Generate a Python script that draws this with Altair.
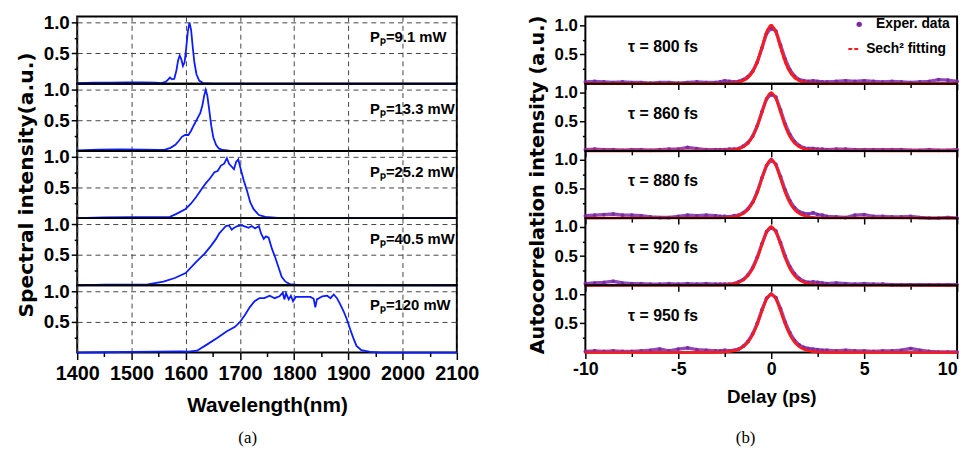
import altair as alt
import pandas as pd

# ---------------- data: panel (a) spectra ----------------
power_labels = ["Pₚ=9.1 mW", "Pₚ=13.3 mW", "Pₚ=25.2 mW", "Pₚ=40.5 mW", "Pₚ=120 mW"]
label_wl = [1940, 1940, 1940, 1940, 1940]
label_lev = [0.76, 0.68, 0.76, 0.76, 0.78]

wl_1 = [1400, 1430, 1460, 1490, 1520, 1545, 1555, 1563, 1568, 1571, 1575, 1579, 1583, 1586, 1589, 1592,
        1595, 1598, 1601, 1604, 1607, 1610, 1613, 1616, 1620, 1625, 1632, 1650, 1800, 2100]
int_1 = [0.01, 0.015, 0.015, 0.02, 0.02, 0.015, 0.01, 0.03, 0.07, 0.10, 0.07, 0.08, 0.22, 0.38, 0.46, 0.40,
         0.29, 0.35, 0.58, 0.85, 1.0, 0.88, 0.60, 0.35, 0.15, 0.05, 0.01, 0.0, 0.0, 0.0]

wl_2 = [1400, 1440, 1480, 1520, 1550, 1562, 1572, 1581, 1588, 1593, 1599, 1605, 1610, 1615, 1621, 1627,
        1631, 1634, 1637, 1640, 1643, 1647, 1651, 1656, 1661, 1668, 1680, 1700, 2100]
int_2 = [0.01, 0.02, 0.025, 0.02, 0.015, 0.02, 0.05, 0.10, 0.17, 0.23, 0.26, 0.26, 0.33, 0.42, 0.52, 0.62,
         0.75, 0.90, 1.0, 0.90, 0.70, 0.42, 0.22, 0.10, 0.04, 0.015, 0.005, 0.0, 0.0]

wl_3 = [1400, 1450, 1500, 1530, 1555, 1571, 1583, 1600, 1610, 1619, 1626, 1632, 1638, 1644, 1649, 1653,
        1659, 1665, 1671, 1676, 1680, 1685, 1689, 1693, 1697, 1701, 1707, 1713, 1719, 1725, 1735, 1747,
        1770, 2100]
int_3 = [0.0, 0.01, 0.015, 0.015, 0.015, 0.02, 0.07, 0.15, 0.24, 0.34, 0.43, 0.51, 0.58, 0.64, 0.70, 0.75,
         0.77, 0.86, 0.89, 0.98, 0.89, 0.84, 0.80, 0.92, 0.96, 0.82, 0.62, 0.45, 0.26, 0.15, 0.05, 0.02,
         0.005, 0.0]

wl_4 = [1400, 1450, 1500, 1530, 1559, 1580, 1600, 1619, 1635, 1647, 1656, 1662, 1668, 1674, 1680, 1685,
        1689, 1695, 1704, 1710, 1716, 1722, 1728, 1735, 1739, 1744, 1748, 1753, 1759, 1765, 1771, 1777,
        1784, 1792, 1810, 2100]
int_4 = [0.0, 0.01, 0.01, 0.015, 0.06, 0.12, 0.20, 0.38, 0.52, 0.65, 0.76, 0.85, 0.91, 0.97, 0.98, 0.91,
         0.94, 0.97, 0.98, 0.96, 0.94, 0.97, 0.93, 0.97, 0.85, 0.76, 0.80, 0.78, 0.60, 0.46, 0.30, 0.14,
         0.06, 0.02, 0.005, 0.0]

wl_5 = [1400, 1450, 1500, 1550, 1590, 1605, 1621, 1639, 1658, 1676, 1691, 1700, 1709, 1718, 1727, 1736,
        1745, 1755, 1764, 1773, 1779, 1782, 1785, 1790, 1794, 1798, 1803, 1812, 1821, 1830, 1836, 1839,
        1842, 1852, 1861, 1867, 1873, 1879, 1885, 1891, 1897, 1903, 1909, 1915, 1924, 1940, 1960, 2100]
int_5 = [0.0, 0.005, 0.01, 0.015, 0.02, 0.015, 0.03, 0.13, 0.24, 0.35, 0.42, 0.50, 0.61, 0.74, 0.84, 0.89,
         0.89, 0.93, 0.89, 0.92, 0.98, 0.87, 0.97, 0.87, 0.93, 0.84, 0.91, 0.91, 0.91, 0.91, 0.88, 0.74,
         0.87, 0.92, 0.93, 0.89, 0.95, 0.89, 0.79, 0.68, 0.55, 0.39, 0.24, 0.11, 0.04, 0.01, 0.0, 0.0]

spec_wl = [wl_1, wl_2, wl_3, wl_4, wl_5]
spec_int = [int_1, int_2, int_3, int_4, int_5]

# ---------------- data: panel (b) autocorrelation ----------------
tau_labels = ["τ = 800 fs", "τ = 860 fs", "τ = 880 fs", "τ = 920 fs", "τ = 950 fs"]
tau_x = [-7.7, -7.7, -7.7, -7.7, -7.7]
tau_lev = [0.63, 0.63, 0.63, 0.63, 0.63]

ac_delay = [-10, -9.5, -9, -8.5, -8, -7.5, -7, -6.5, -6, -5.5, -5, -4.5, -4, -3.5, -3,
            -2.75, -2.5, -2.25, -2, -1.75, -1.5, -1.25, -1, -0.75, -0.5, -0.25, 0, 0.25, 0.5, 0.75,
            1, 1.25, 1.5, 1.75, 2, 2.25, 2.5, 2.75,
            3, 3.5, 4, 4.5, 5, 5.5, 6, 6.5, 7, 7.5, 8, 8.5, 9, 9.5, 10]
ac_800 = [0.03, 0.04, 0.03, 0.02, 0.03, 0.02, 0.02, 0.01, 0.02, 0.02, 0.01, 0.02, 0.03, 0.02, 0.02,
          0.03, 0.05, 0.04, 0.03, 0.04, 0.07, 0.12, 0.21, 0.37, 0.61, 0.86, 0.95, 0.90, 0.66, 0.42,
          0.24, 0.13, 0.07, 0.05, 0.04, 0.05, 0.04, 0.03,
          0.03, 0.04, 0.05, 0.04, 0.05, 0.04, 0.03, 0.04, 0.03, 0.02, 0.03, 0.04, 0.07, 0.06, 0.04]
ac_860 = [0.02, 0.03, 0.02, 0.02, 0.01, 0.02, 0.02, 0.01, 0.02, 0.03, 0.03, 0.06, 0.04, 0.02, 0.02,
          0.02, 0.02, 0.03, 0.03, 0.04, 0.08, 0.14, 0.25, 0.43, 0.67, 0.89, 0.97, 0.92, 0.70, 0.46,
          0.28, 0.16, 0.09, 0.05, 0.04, 0.04, 0.03, 0.03,
          0.02, 0.03, 0.03, 0.02, 0.02, 0.02, 0.02, 0.02, 0.02, 0.01, 0.01, 0.02, 0.01, 0.01, 0.02]
ac_880 = [0.04, 0.05, 0.06, 0.07, 0.05, 0.05, 0.04, 0.02, 0.01, 0.01, 0.03, 0.05, 0.04, 0.05, 0.04,
          0.03, 0.03, 0.02, 0.04, 0.05, 0.09, 0.16, 0.27, 0.45, 0.69, 0.90, 1.0, 0.92, 0.71, 0.48,
          0.30, 0.18, 0.11, 0.08, 0.07, 0.09, 0.06, 0.05,
          0.03, 0.02, 0.01, 0.05, 0.06, 0.03, 0.03, 0.02, 0.02, 0.03, 0.01, 0.0, 0.0, 0.01, 0.0]
ac_920 = [0.03, 0.04, 0.05, 0.07, 0.04, 0.03, 0.03, 0.02, 0.02, 0.03, 0.02, 0.03, 0.02, 0.03, 0.02,
          0.02, 0.02, 0.02, 0.03, 0.06, 0.10, 0.18, 0.30, 0.48, 0.71, 0.92, 0.99, 0.93, 0.73, 0.50,
          0.32, 0.20, 0.12, 0.07, 0.05, 0.06, 0.05, 0.04,
          0.03, 0.04, 0.03, 0.02, 0.03, 0.02, 0.02, 0.01, 0.01, 0.01, 0.01, 0.01, 0.01, 0.01, 0.01]
ac_950 = [0.02, 0.03, 0.02, 0.03, 0.02, 0.02, 0.03, 0.04, 0.06, 0.03, 0.06, 0.08, 0.05, 0.04, 0.03,
          0.03, 0.04, 0.03, 0.04, 0.06, 0.11, 0.19, 0.32, 0.50, 0.73, 0.93, 1.0, 0.94, 0.75, 0.52,
          0.34, 0.21, 0.13, 0.09, 0.07, 0.06, 0.05, 0.04,
          0.04, 0.03, 0.04, 0.03, 0.03, 0.02, 0.03, 0.03, 0.04, 0.07, 0.04, 0.02, 0.01, 0.01, 0.01]
ac_data = [ac_800, ac_860, ac_880, ac_920, ac_950]

fit_delay = [-10, -3, -2.5, -2, -1.75, -1.5, -1.25, -1, -0.75, -0.5, -0.25, 0,
             0.25, 0.5, 0.75, 1, 1.25, 1.5, 1.75, 2, 2.5, 3, 10]
fit_800 = [0, 0.001, 0.003, 0.013, 0.026, 0.053, 0.105, 0.204, 0.374, 0.621, 0.882, 1.0,
           0.882, 0.621, 0.374, 0.204, 0.105, 0.053, 0.026, 0.013, 0.003, 0.001, 0]
fit_860 = [0, 0.001, 0.005, 0.019, 0.037, 0.070, 0.132, 0.242, 0.419, 0.660, 0.896, 1.0,
           0.896, 0.660, 0.419, 0.242, 0.132, 0.070, 0.037, 0.019, 0.005, 0.001, 0]
fit_880 = [0, 0.002, 0.006, 0.022, 0.042, 0.079, 0.145, 0.259, 0.438, 0.675, 0.902, 1.0,
           0.902, 0.675, 0.438, 0.259, 0.145, 0.079, 0.042, 0.022, 0.006, 0.002, 0]
fit_920 = [0, 0.002, 0.008, 0.027, 0.050, 0.092, 0.165, 0.285, 0.466, 0.696, 0.910, 1.0,
           0.910, 0.696, 0.466, 0.285, 0.165, 0.092, 0.050, 0.027, 0.008, 0.002, 0]
fit_950 = [0, 0.003, 0.010, 0.031, 0.057, 0.101, 0.178, 0.301, 0.483, 0.709, 0.914, 1.0,
           0.914, 0.709, 0.483, 0.301, 0.178, 0.101, 0.057, 0.031, 0.010, 0.003, 0]
fit_data = [fit_800, fit_860, fit_880, fit_920, fit_950]

legend_names = ["Exper. data", "Sech² fitting"]

# ---------------- style ----------------
SANS = "Liberation Sans"
WIDE = "DejaVu Sans"
BLUE = "#0b1cff"
PURPLE = "#7b2aa8"
RED = "#ff1a1a"
H = 68
WL, WR = 384, 376

y_ticks = [0.25, 0.5, 0.75, 1.0]
major_y = "(abs(datum.value - 0.5) < 0.01 || abs(datum.value - 1) < 0.01)"


def left_panel(i):
    last = i == 4
    df = pd.DataFrame({"wl": spec_wl[i], "I": spec_int[i]})
    xk = dict(values=[1400 + 50 * k for k in range(15)], grid=True, gridColor="#444",
              gridDash=[5, 4], gridWidth=1, domain=False, labels=last, ticks=last,
              gridOpacity={"condition": {"test": "datum.value % 100 === 0", "value": 1}, "value": 0})
    if last:
        xk.update(labelExpr="datum.value % 100 === 0 ? datum.label : ''", format="d",
                  labelOverlap=False, labelFlush=False,
                  tickSize={"condition": {"test": "datum.value % 100 === 0", "value": 7}, "value": 4},
                  labelFont=SANS, labelFontSize=20, labelPadding=4,
                  titleFont=SANS, titleFontSize=21, titlePadding=12)
    yk = dict(values=y_ticks, format=".1f", domain=False, grid=True, gridColor="#444",
              gridDash=[5, 4], gridWidth=1, labelOverlap=False, labelFlush=False,
              gridOpacity={"condition": {"test": major_y, "value": 1}, "value": 0},
              labelExpr=major_y + " ? datum.label : ''",
              tickSize={"condition": {"test": major_y, "value": 6}, "value": 3},
              labelFont=SANS, labelFontSize=19, labelPadding=2,
              titleFont=WIDE, titleFontSize=20.5, titlePadding=7)
    x = alt.X("wl:Q", scale=alt.Scale(domain=[1400, 2100], nice=False, zero=False),
              axis=alt.Axis(**xk), title="Wavelength(nm)" if last else None)
    y = alt.Y("I:Q", scale=alt.Scale(domain=[0, 1.1], nice=False),
              axis=alt.Axis(**yk), title="Spectral intensity(a.u.)" if i == 2 else None)
    line = alt.Chart(df).mark_line(color=BLUE, strokeWidth=1.8, clip=False).encode(x=x, y=y)
    tdf = pd.DataFrame({"wl": [label_wl[i]], "I": [label_lev[i]], "t": [power_labels[i]]})
    txt = alt.Chart(tdf).mark_text(align="left", baseline="middle", font=SANS, fontSize=15,
                                   fontWeight="bold", color="black").encode(x=x, y=y, text="t:N")
    return alt.layer(line, txt).properties(width=WL, height=H)


def right_panel(i):
    last = i == 4
    ddf = pd.DataFrame({"d": ac_delay, "v": ac_data[i], "lab": legend_names[0]})
    fdf = pd.DataFrame({"d": fit_delay, "v": fit_data[i], "lab": legend_names[1]})
    xk = dict(values=[-10 + 2.5 * k for k in range(9)], grid=False, domain=False, labels=last,
              ticks=True,
              tickSize={"condition": {"test": "datum.value % 5 === 0", "value": 6}, "value": 4})
    if last:
        xk.update(labelExpr="datum.value % 5 === 0 ? replace(datum.label, '\u2212', '-') : ''",
                  format="d", labelOverlap=False, labelFlush=False,
                  labelAlign={"condition": {"test": "datum.value === 10", "value": "right"},
                              "value": "center"},
                  labelFont=SANS, labelFontSize=18, labelPadding=2,
                  titleFont=SANS, titleFontSize=19, titlePadding=10)
    yk = dict(values=y_ticks, format=".1f", domain=False, grid=False,
              labelOverlap=False, labelFlush=False,
              labelExpr=major_y + " ? datum.label : ''",
              tickSize={"condition": {"test": major_y, "value": 6}, "value": 3},
              labelFont=SANS, labelFontSize=17, labelPadding=2,
              titleFont=WIDE, titleFontSize=19.5, titlePadding=7)
    x = alt.X("d:Q", scale=alt.Scale(domain=[-10, 10], nice=False, zero=False),
              axis=alt.Axis(**xk), title="Delay (ps)" if last else None)
    y = alt.Y("v:Q", scale=alt.Scale(domain=[0, 1.15], nice=False),
              axis=alt.Axis(**yk), title="Autocorrelation intensity (a.u.)" if i == 2 else None)
    dline = alt.Chart(ddf).mark_line(color=PURPLE, strokeWidth=3.4, opacity=0.85,
                                     interpolate="linear", clip=False).encode(x=x, y=y)
    if i == 0:
        dpts = alt.Chart(ddf).mark_circle(size=14, opacity=1).encode(
            x=x, y=y,
            color=alt.Color("lab:N", scale=alt.Scale(domain=[legend_names[0]], range=[PURPLE]),
                            legend=alt.Legend(title=None, orient="none", legendX=270, legendY=1,
                                              labelFont=SANS, labelFontSize=14, labelFontWeight="bold",
                                              symbolSize=30, symbolType="circle", padding=0,
                                              labelOffset=10)))
        fdash = alt.Chart(fdf).mark_line(color=RED, strokeWidth=2.6, interpolate="monotone").encode(
            x=x, y=y,
            strokeDash=alt.StrokeDash("lab:N", scale=alt.Scale(domain=[legend_names[1]], range=[[4, 2]]),
                                      legend=alt.Legend(title=None, orient="none", legendX=264, legendY=26,
                                                        labelFont=SANS, labelFontSize=14,
                                                        labelFontWeight="bold", symbolType="stroke",
                                                        symbolStrokeColor=RED, symbolStrokeWidth=2,
                                                        symbolSize=100, padding=0, labelOffset=6)))
        extra = [fdash]
    else:
        dpts = alt.Chart(ddf).mark_circle(size=14, color=PURPLE, opacity=1).encode(x=x, y=y)
        extra = []
    fline = alt.Chart(fdf).mark_line(color=RED, strokeWidth=2.6, interpolate="monotone").encode(x=x, y=y)
    tdf = pd.DataFrame({"d": [tau_x[i]], "v": [tau_lev[i]], "t": [tau_labels[i]]})
    txt = alt.Chart(tdf).mark_text(align="left", baseline="middle", font=SANS, fontSize=16,
                                   fontWeight="bold", color="black").encode(x=x, y=y, text="t:N")
    layers = [dline, dpts] + extra + [fline, txt]
    return alt.layer(*layers).properties(width=WR, height=H)


left = alt.vconcat(*[left_panel(i) for i in range(5)], spacing=0, bounds="flush").properties(
    title=alt.TitleParams("(a)", orient="bottom", font="Liberation Serif", fontSize=17,
                          fontWeight="normal", anchor="middle", offset=13, color="black"))
right = alt.vconcat(*[right_panel(i) for i in range(5)], spacing=0, bounds="flush").properties(
    title=alt.TitleParams("(b)", orient="bottom", font="Liberation Serif", fontSize=17,
                          fontWeight="normal", anchor="middle", offset=22, color="black")
).resolve_scale(color="independent", strokeDash="independent")

chart = alt.hconcat(left, right, spacing=46).resolve_scale(
    color="independent", strokeDash="independent"
).properties(
    padding={"left": 7, "top": 2, "right": 0, "bottom": 0}, background="white"
).configure_view(stroke="black", strokeWidth=2, fill="transparent").configure_axis(
    labelColor="black", titleColor="black", tickColor="black", labelFontWeight="bold",
    titleFontWeight="bold", tickWidth=1.5
).configure_legend(labelColor="black")

chart.save("out.html", embed_options={"renderer": "svg", "actions": False})
